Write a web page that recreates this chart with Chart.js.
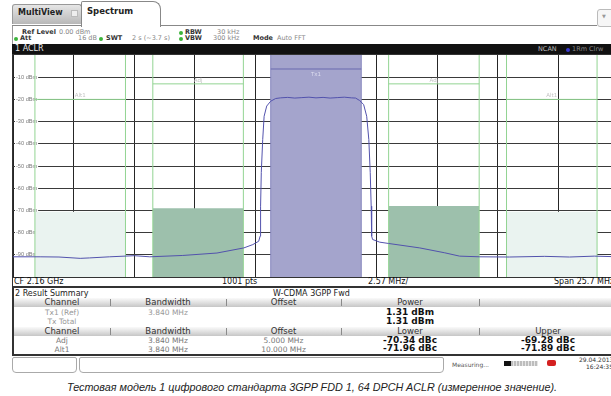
<!DOCTYPE html>
<html>
<head>
<meta charset="utf-8">
<script src="https://cdn.jsdelivr.net/npm/chart.js@4.4.1/dist/chart.umd.min.js"></script>
<style>
body{margin:0;width:611px;height:396px;overflow:hidden;background:#fff;position:relative;font-family:"DejaVu Sans",sans-serif;color:#222}
.a{position:absolute;white-space:nowrap}
.b{font-weight:bold;color:#333}
.g{color:#888}
.s{font-size:6.5px;line-height:7px}
.dot{position:absolute;width:4px;height:4px;border-radius:50%;background:#3cb43c}
.hdr{position:absolute;left:14px;width:610px;height:9px;background:linear-gradient(#fafafa,#dedede 55%,#c6c6c6)}
.sep{position:absolute;width:1px;height:7px;background:#8a8a8a}
.c{position:absolute;text-align:center;white-space:nowrap;font-size:7.5px;line-height:9px}
.v{font-weight:bold;font-size:9px;color:#111}
</style>
</head>
<body>
<!-- tabs -->
<div class="a" style="left:12px;top:4px;width:68px;height:19px;border:1px solid #999;border-bottom:none;border-radius:3px 3px 0 0;background:linear-gradient(#e6e6e6,#b8b8b8)"></div>
<div class="a b" style="left:18px;top:8px;font-size:8px;color:#222">MultiView</div>
<div class="a" style="left:71px;top:10px;width:5px;height:5px;border:1px solid #bbb;background:#eee"></div>
<div class="a" style="left:81px;top:1px;width:78px;height:25px;border:1px solid #888;border-bottom:none;border-radius:2px 8px 0 0;background:#fff"></div>
<div class="a b" style="left:87px;top:6px;font-size:8.5px;color:#222">Spectrum</div>
<div class="a" style="left:160px;top:25px;width:437px;height:1px;background:#888"></div>
<div class="a" style="left:12px;top:25px;width:69px;height:1px;background:#888"></div>
<div class="a" style="left:597px;top:9px;width:16px;height:16px;border:1px solid #bbb;border-radius:3px;background:#f6f6f6"></div>
<div class="a" style="left:602px;top:13px;font-size:5px;color:#999">&#9660;</div>
<div class="a" style="left:12px;top:26px;width:1px;height:18px;background:#999"></div>

<!-- settings -->
<div class="a b s" style="left:22px;top:29px">Ref Level</div>
<div class="a g s" style="left:59px;top:29px">0.00 dBm</div>
<div class="dot" style="left:179px;top:30.5px"></div>
<div class="a b s" style="left:185px;top:29px">RBW</div>
<div class="a g s" style="left:217px;top:29px">30 kHz</div>
<div class="dot" style="left:14px;top:36.5px"></div>
<div class="a b s" style="left:20px;top:35px">Att</div>
<div class="a g s" style="left:78px;top:35px">16 dB</div>
<div class="dot" style="left:99px;top:36.5px"></div>
<div class="a b s" style="left:106px;top:35px">SWT</div>
<div class="a g s" style="left:132px;top:35px">2 s (~3.7 s)</div>
<div class="dot" style="left:179px;top:36.5px"></div>
<div class="a b s" style="left:185px;top:35px">VBW</div>
<div class="a g s" style="left:213px;top:35px">300 kHz</div>
<div class="a b s" style="left:253px;top:35px">Mode</div>
<div class="a g s" style="left:277px;top:35px">Auto FFT</div>

<!-- window title bar -->
<div class="a" style="left:12px;top:44px;width:600px;height:10px;background:#111"></div>
<div class="a" style="left:15px;top:44px;font-size:8px;line-height:10px;color:#e8e8e8">1 ACLR</div>
<div class="a" style="left:538px;top:45px;font-size:6.5px;line-height:9px;color:#bbb">NCAN</div>
<div class="a" style="left:566px;top:48px;width:4px;height:4px;border-radius:50%;background:#3a3ad0"></div>
<div class="a" style="left:572px;top:45px;font-size:6.5px;line-height:9px;color:#888">1Rm Clrw</div>

<!-- plot -->
<div class="a" style="left:12px;top:54px;width:606px;height:222px;border:1px solid #333"></div>
<div class="a" style="left:13px;top:55px;width:606px;height:222px"><canvas id="aclr"></canvas></div>

<!-- axis footer -->
<div class="a" style="left:12px;top:277px;width:1px;height:10px;background:#333"></div>
<div class="a" style="left:14px;top:277px;font-size:8px;line-height:9px;color:#111">CF 2.16 GHz</div>
<div class="a" style="left:222px;top:277px;font-size:8px;line-height:9px;color:#111">1001 pts</div>
<div class="a" style="left:368px;top:277px;font-size:8px;line-height:9px;color:#111">2.57 MHz/</div>
<div class="a" style="left:554px;top:277px;font-size:8px;line-height:9px;color:#111">Span 25.7 MHz</div>

<!-- result summary -->
<div class="a" style="left:12px;top:286px;width:620px;height:66px;border:2px solid #333;border-right:none"></div>
<div class="a" style="left:15px;top:289px;font-size:8px;line-height:9px;color:#222">2 Result Summary</div>
<div class="a" style="left:273px;top:289px;font-size:8px;line-height:9px;color:#222">W-CDMA 3GPP Fwd</div>
<div id="table"></div>

<!-- status bar -->
<div class="a" style="left:12px;top:357px;width:63px;height:14px;border:1px solid #aaa;border-radius:2px 2px 4px 4px"></div>
<div class="a" style="left:79px;top:357px;width:363px;height:14px;border:1px solid #aaa;border-radius:2px 2px 4px 4px"></div>
<div class="a" style="left:452px;top:361px;font-size:6px;color:#555">Measuring...</div>
<div class="a" style="left:504px;top:361px;width:7px;height:5px;background:#111"></div>
<div class="a" style="left:511px;top:361px;width:27px;height:5px;background:repeating-linear-gradient(90deg,#bdbdbd 0 2px,#e6e6e6 2px 3px)"></div>
<div class="a" style="left:547px;top:360px;width:9px;height:6px;background:#d42020;border-radius:2px"></div>
<div class="a" style="left:579px;top:356px;font-size:6px;color:#333">29.04.2013</div>
<div class="a" style="left:586px;top:363px;font-size:6px;color:#333">16:24:35</div>

<div class="a" style="left:0;width:624px;top:381px;text-align:center;font-family:'Liberation Sans',Arial,sans-serif;font-style:italic;font-size:10.8px;color:#222">Тестовая модель 1 цифрового стандарта 3GPP FDD 1, 64 DPCH ACLR (измеренное значение).</div>

<script>
// sweep settings
const spanMHz = 25.7;
const divMHz = 2.57;
const refLevel = 0;
const yMin = -100;

// measured trace, MHz offset from CF 2.16 GHz
const traceMHz = [-12.85, -11.7, -10.9, -10.0, -9.6, -8.75, -7.7, -7.05, -5.65, -4.2, -3.06, -2.68, -2.43, -2.37, -2.35, -2.32, -2.26, -2.2, -2.09, -1.92, -1.71,
  -1.5, -1.2, -0.9, -0.6, -0.3, 0, 0.3, 0.6, 0.9, 1.2, 1.5, 1.68,
  1.85, 2.02, 2.15, 2.24, 2.3, 2.34, 2.36, 2.4, 2.7, 3.08, 4.4, 5.46, 6.09, 6.94, 8.2, 9.7, 10.75, 11.8, 12.85];
const traceDbm = [-90.9, -90.9, -91.0, -91.6, -91.4, -90.9, -90.4, -90.9, -90.3, -89.2, -86.9, -85.4, -83.9, -81.6, -68.1, -52.9, -38.1, -27.6, -23.0, -20.8, -19.6,
  -19.3, -19.1, -19.4, -19.2, -19.0, -19.3, -19.1, -19.4, -19.2, -19.0, -19.3, -19.4,
  -20.5, -22.3, -27.6, -38.1, -52.9, -68.1, -81.6, -83.1, -84.3, -84.9, -86.9, -89.1, -90.6, -90.9, -91.0, -90.7, -91.0, -90.6, -90.9];

// ACLR results
const channels = ['Tx1', 'Adj', 'Alt1'];
const chanBwMHz = 3.84;
const chanOffsetMHz = [0, 5, 10];
const txPowerDbm = 1.31;
const lowerDbc = [-70.34, -71.96];
const upperDbc = [-69.28, -71.89];
const limitDbm = [-13, -20];
const txMarkerDbm = -6.3;

const xGrid = [];
for (let i = 0; i <= 10; i++) xGrid.push(-spanMHz / 2 + i * divMHz);

function block(center, level) {
  return [{x: center - chanBwMHz / 2, y: level}, {x: center + chanBwMHz / 2, y: level}];
}
function segs(list) {
  const pts = [];
  list.forEach(s => { pts.push(s[0], s[1], {x: s[1].x, y: null}); });
  return pts;
}
function edges(list) {
  const pts = [];
  list.forEach(x => { pts.push({x: x, y: yMin}, {x: x, y: refLevel}, {x: x, y: null}); });
  return pts;
}

const adjL = -chanOffsetMHz[1], adjU = chanOffsetMHz[1];
const altL = -chanOffsetMHz[2], altU = chanOffsetMHz[2];
const h = chanBwMHz / 2;

const datasets = [
  {data: traceMHz.map((x, i) => ({x: x, y: traceDbm[i]})), borderColor: '#5252ad', borderWidth: 1},
  {data: edges([altL - h, altL + h, adjL - h, adjL + h, adjU - h, adjU + h, altU - h, altU + h]), borderColor: '#92d492', borderWidth: 1},
  {data: segs([block(adjL, limitDbm[0]), block(adjU, limitDbm[0]), block(altL, limitDbm[1]), block(altU, limitDbm[1])]), borderColor: '#92d492', borderWidth: 1},
  {data: block(0, txMarkerDbm), borderColor: '#6a6ab0', borderWidth: 1},
  {data: edges([-h, h]), borderColor: '#8585bd', borderWidth: 1},
  {data: block(0, txPowerDbm), fill: 'start', backgroundColor: '#a4a4cc', borderWidth: 0},
  {data: block(adjL, txPowerDbm + lowerDbc[0]), fill: 'start', backgroundColor: '#9dc0ac', borderWidth: 0},
  {data: block(adjU, txPowerDbm + upperDbc[0]), fill: 'start', backgroundColor: '#9dc0ac', borderWidth: 0},
  {data: block(altL, txPowerDbm + lowerDbc[1]), fill: 'start', backgroundColor: '#eaf3f0', borderWidth: 0},
  {data: block(altU, txPowerDbm + upperDbc[1]), fill: 'start', backgroundColor: '#eaf3f0', borderWidth: 0}
];
datasets.forEach(d => { d.pointRadius = 0; d.tension = 0; });

const chanLabels = {
  id: 'chanLabels',
  afterDatasetsDraw(chart) {
    const ctx = chart.ctx, xs = chart.scales.x, ys = chart.scales.y;
    ctx.save();
    ctx.font = '5.5px "DejaVu Sans"';
    ctx.textAlign = 'center';
    ctx.textBaseline = 'bottom';
    ctx.fillStyle = '#dcdcee';
    ctx.fillText(channels[0], xs.getPixelForValue(0), ys.getPixelForValue(txMarkerDbm) + 8);
    ctx.fillStyle = '#c4c4c4';
    [adjL, adjU].forEach(c => ctx.fillText(channels[1], xs.getPixelForValue(c), ys.getPixelForValue(limitDbm[0]) - 1));
    [altL, altU].forEach(c => ctx.fillText(channels[2], xs.getPixelForValue(c), ys.getPixelForValue(limitDbm[1]) - 1));
    ctx.restore();
  }
};

new Chart(document.getElementById('aclr').getContext('2d'), {
  type: 'line',
  data: {datasets: datasets},
  plugins: [chanLabels],
  options: {
    responsive: true,
    maintainAspectRatio: false,
    animation: false,
    layout: {padding: 0},
    plugins: {legend: {display: false}, tooltip: {enabled: false}},
    scales: {
      x: {
        type: 'linear', min: -spanMHz / 2, max: spanMHz / 2,
        afterBuildTicks: s => { s.ticks = xGrid.map(v => ({value: v})); },
        afterFit: s => { s.height = 0; s.paddingLeft = 0; s.paddingRight = 0; },
        ticks: {display: false},
        grid: {color: '#262626', drawTicks: false},
        border: {display: false}
      },
      y: {
        min: yMin, max: refLevel,
        afterFit: s => { s.width = 0; s.paddingTop = 0; s.paddingBottom = 0; },
        ticks: {
          stepSize: 10, mirror: true, padding: 3, color: '#7a7a7a',
          font: {family: 'Liberation Sans', size: 5.6},
          showLabelBackdrop: true, backdropColor: '#fff', backdropPadding: {x: 1, y: 0},
          callback: v => (v === refLevel || v === yMin) ? null : v + ' dBm'
        },
        grid: {color: '#3a3a3a', drawTicks: false},
        border: {display: false}
      }
    }
  }
});

// result table
const colX = [14, 110, 226, 341, 479, 617];
const head1 = ['Channel', 'Bandwidth', 'Offset', 'Power', ''];
const head2 = ['Channel', 'Bandwidth', 'Offset', 'Lower', 'Upper'];
const txRows = [['Tx1 (Ref)', '3.840 MHz', '', txPowerDbm.toFixed(2) + ' dBm'], ['Tx Total', '', '', txPowerDbm.toFixed(2) + ' dBm']];
const adjRows = [['Adj', '3.840 MHz', '5.000 MHz'], ['Alt1', '3.840 MHz', '10.000 MHz']];

let html = '';
function cell(col, y, text, cls, style) {
  html += '<div class="c ' + (cls || '') + '" style="left:' + colX[col] + 'px;width:' + (colX[col + 1] - colX[col]) + 'px;top:' + y + 'px;' + (style || '') + '">' + text + '</div>';
}
function header(y, labels) {
  html += '<div class="hdr" style="top:' + y + 'px"></div>';
  for (let i = 1; i < 5; i++) html += '<div class="sep" style="left:' + colX[i] + 'px;top:' + (y + 1) + 'px"></div>';
  labels.forEach((t, i) => cell(i, y, t, '', 'font-size:8.5px;color:#333'));
}
header(297.5, head1);
txRows.forEach((r, k) => {
  const y = 308 + k * 9;
  cell(0, y, r[0], '', 'color:#999');
  cell(1, y, r[1], '', 'color:#999');
  cell(3, y - 0.5, r[3], 'v');
});
header(326.5, head2);
adjRows.forEach((r, k) => {
  const y = 336 + k * 8.5;
  cell(0, y, r[0], '', 'color:#777');
  cell(1, y, r[1], '', 'color:#777');
  cell(2, y, r[2], '', 'color:#777');
  cell(3, y - 0.5, lowerDbc[k].toFixed(2) + ' dBc', 'v');
  cell(4, y - 0.5, upperDbc[k].toFixed(2) + ' dBc', 'v');
});
document.getElementById('table').innerHTML = html;
</script>
</body>
</html>
